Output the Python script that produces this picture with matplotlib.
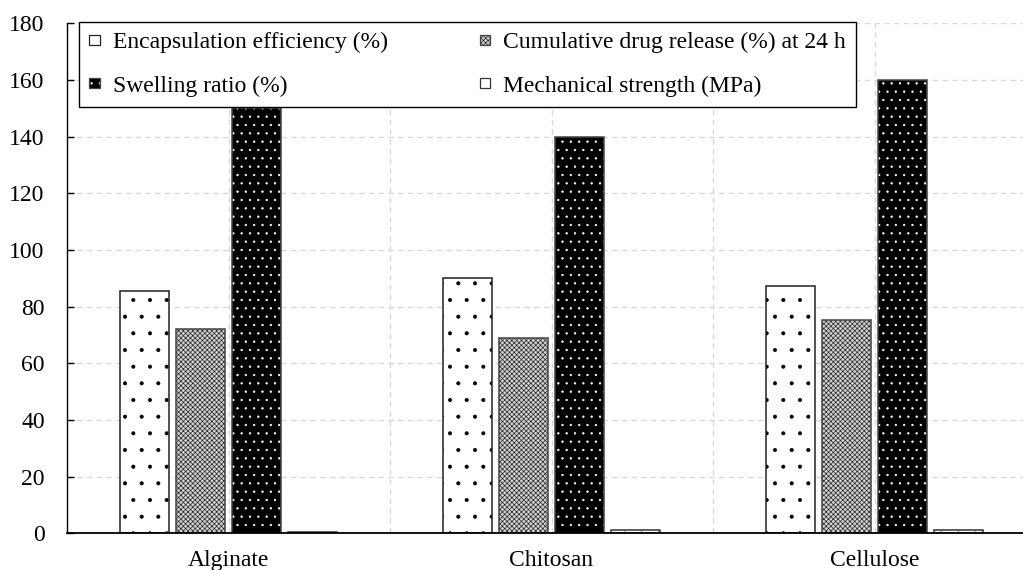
import matplotlib
matplotlib.use("Agg")
import matplotlib.pyplot as plt
from matplotlib.patches import Patch
from matplotlib.legend_handler import HandlerTuple
import numpy as np

plt.rcParams['font.family'] = ['Liberation Serif', 'DejaVu Serif']
plt.rcParams['hatch.linewidth'] = 0.45

categories = ["Alginate", "Chitosan", "Cellulose"]
series_names = ["Encapsulation efficiency (%)",
                "Cumulative drug release (%) at 24 h",
                "Swelling ratio (%)",
                "Mechanical strength (MPa)"]
encapsulation = [85.6, 90.1, 87.4]
cumulative_release = [72.1, 69.0, 75.3]
swelling = [150, 140, 160]
mechanical = [0.6, 1.0, 1.3]
yticks = [0, 20, 40, 60, 80, 100, 120, 140, 160, 180]

series = [encapsulation, cumulative_release, swelling, mechanical]
faces = ['white', '#d0d0d0', 'black', 'white']
hatch_colors = ['black', '#1a1a1a', 'white', '#555555']
hatches = ['.', 'xxxxxxx', '..', '|']
outline = ['#222222', '#444444', '#444444', '#333333']

W, H = 1023, 570
fig = plt.figure(figsize=(W / 100, H / 100), dpi=100)
ax = fig.add_axes([67 / W, 36.7 / H, 969 / W, 510 / H])

x = np.arange(len(categories)) + 0.5
width = 0.152
step = 0.1735

handles = []
for i, vals in enumerate(series):
    pos = x + (i - 1.5) * step
    ax.bar(pos, vals, width, color=faces[i], edgecolor=hatch_colors[i],
           hatch=hatches[i], linewidth=0, zorder=3)
    ax.bar(pos, vals, width, fill=False, edgecolor=outline[i],
           linewidth=1.1, zorder=4)
    h1 = Patch(facecolor=faces[i], edgecolor=hatch_colors[i], hatch=hatches[i], linewidth=0)
    h2 = Patch(fill=False, edgecolor=outline[i], linewidth=0.9)
    handles.append((h1, h2))

ax.set_xlim(0, 3)
ax.set_ylim(0, 180)
ax.set_yticks(yticks)
ax.set_xticks(x)
ax.set_xticklabels(categories)
ax.set_xticks([1, 2, 3], minor=True)

ax.tick_params(axis='y', direction='in', length=5, width=1, pad=16,
               labelsize=17, colors='black')
ax.tick_params(axis='x', which='both', length=0, pad=12, labelsize=17)

ax.grid(True, axis='y', color='#d9d9d9', linestyle=(0, (4, 3)), linewidth=1.0, zorder=0)
ax.grid(True, axis='x', which='both', color='#d9d9d9', linestyle=(0, (4, 3)), linewidth=1.0, zorder=0)
ax.set_axisbelow(True)

for s in ['top', 'right']:
    ax.spines[s].set_visible(False)
ax.spines['left'].set_linewidth(1.0)
ax.spines['bottom'].set_linewidth(1.3)
ax.spines['left'].set_zorder(5)
ax.spines['bottom'].set_zorder(5)

order = [0, 2, 1, 3]
leg = fig.legend([handles[k] for k in order], [series_names[k] for k in order],
                 handler_map={tuple: HandlerTuple(ndivide=1)},
                 loc='upper left', bbox_to_anchor=(79 / W, 1 - 22 / H),
                 borderaxespad=0, ncol=2, fontsize=17, frameon=True,
                 fancybox=False, edgecolor='black', framealpha=1,
                 handlelength=0.45, handleheight=0.3, handletextpad=0.55,
                 columnspacing=3.9, labelspacing=0.94, borderpad=0.43)
leg.get_frame().set_linewidth(1.0)
leg.set_zorder(10)

fig.savefig("out.png", dpi=100)
